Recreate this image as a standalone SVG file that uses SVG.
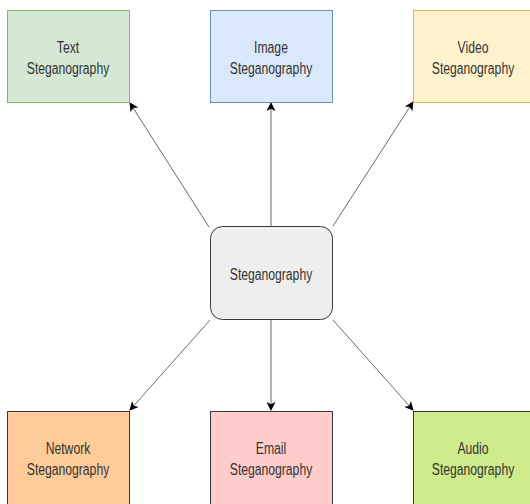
<svg xmlns="http://www.w3.org/2000/svg" width="530" height="504" viewBox="0 0 530 504">
<defs>
<marker id="arr" viewBox="0 0 10 10" refX="9" refY="5" markerWidth="9" markerHeight="9" markerUnits="userSpaceOnUse" orient="auto">
<path d="M0,0 L10,5 L0,10 L2.5,5 Z" fill="#000"/>
</marker>
</defs>
<style>
.lbl{font-family:"Liberation Sans",Arial,sans-serif;font-size:16px;fill:#333;text-anchor:middle}
.c{stroke:#444;stroke-width:0.8;fill:none;marker-end:url(#arr)}
</style>
<rect width="530" height="504" fill="#fff"/>
<g id="connectors">
<line class="c" x1="209" y1="227" x2="130" y2="103"/>
<line class="c" x1="271" y1="226" x2="271" y2="103"/>
<line class="c" x1="333" y1="226" x2="413" y2="102"/>
<line class="c" x1="210" y1="320" x2="130" y2="410"/>
<line class="c" x1="271" y1="320" x2="271" y2="410"/>
<line class="c" x1="333" y1="320" x2="413" y2="410"/>
</g>
<g id="text-steg">
<rect x="7.5" y="10.5" width="122" height="92" fill="#d5e8d4" stroke="#82b366"/>
<g transform="translate(68,0) scale(0.76,1)"><text class="lbl" x="0" y="53">Text</text><text class="lbl" x="0" y="74">Steganography</text></g>
</g>
<g id="image-steg">
<rect x="210.5" y="10.5" width="122" height="92" fill="#dae8fc" stroke="#6c8ebf"/>
<g transform="translate(271,0) scale(0.76,1)"><text class="lbl" x="0" y="53">Image</text><text class="lbl" x="0" y="74">Steganography</text></g>
</g>
<g id="video-steg">
<rect x="413.5" y="10.5" width="122" height="92" fill="#fff2cc" stroke="#d6b656"/>
<g transform="translate(473,0) scale(0.76,1)"><text class="lbl" x="0" y="53">Video</text><text class="lbl" x="0" y="74">Steganography</text></g>
</g>
<g id="center-steg">
<rect x="210.5" y="226.5" width="122" height="93" rx="12" fill="#eeeeee" stroke="#36393d"/>
<g transform="translate(271,0) scale(0.76,1)"><text class="lbl" x="0" y="280">Steganography</text></g>
</g>
<g id="network-steg">
<rect x="7.5" y="411.5" width="122" height="95" fill="#ffcc99" stroke="#36393d"/>
<g transform="translate(68,0) scale(0.76,1)"><text class="lbl" x="0" y="454">Network</text><text class="lbl" x="0" y="475">Steganography</text></g>
</g>
<g id="email-steg">
<rect x="210.5" y="411.5" width="122" height="95" fill="#ffcccc" stroke="#36393d"/>
<g transform="translate(271,0) scale(0.76,1)"><text class="lbl" x="0" y="454">Email</text><text class="lbl" x="0" y="475">Steganography</text></g>
</g>
<g id="audio-steg">
<rect x="413.5" y="411.5" width="122" height="95" fill="#cdeb8b" stroke="#36393d"/>
<g transform="translate(473,0) scale(0.76,1)"><text class="lbl" x="0" y="454">Audio</text><text class="lbl" x="0" y="475">Steganography</text></g>
</g>
</svg>
